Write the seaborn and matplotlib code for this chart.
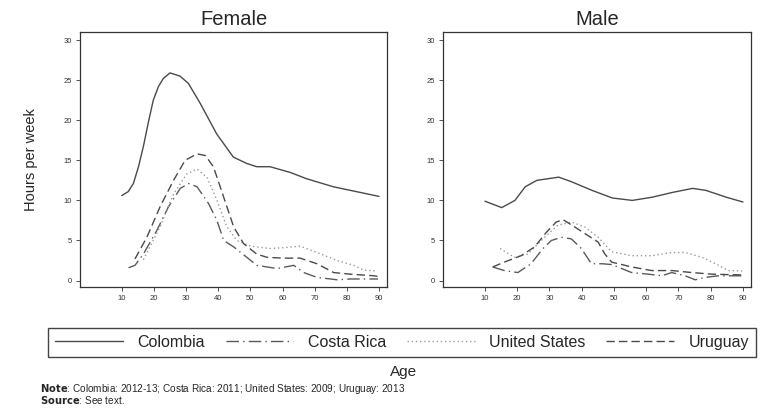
import pandas as pd
import matplotlib
matplotlib.use("Agg")
import matplotlib.pyplot as plt
import seaborn as sns

countries = ["Colombia", "Costa Rica", "United States", "Uruguay"]

# female curves (age, hours per week)
f_col_age = [10, 12, 13.6, 15.2, 16.7, 18.3, 19.8, 21.4, 22.9, 25, 28.1, 30.7, 34.4, 39.5, 44.7, 48.9, 52, 56.1, 62.3, 67.5, 75.8, 90]
f_col_hrs = [10.6, 11.1, 12.1, 14.2, 16.7, 19.8, 22.5, 24.2, 25.2, 25.9, 25.5, 24.6, 22.1, 18.3, 15.4, 14.6, 14.2, 14.2, 13.5, 12.7, 11.7, 10.5]
f_cri_age = [12.1, 14.1, 16.7, 20.9, 24.5, 28.2, 30.8, 33.4, 37, 39.6, 41.7, 44.8, 48.9, 52, 58.3, 63.5, 66.6, 70.7, 77, 81.1, 83.2, 89.7]
f_cri_hrs = [1.6, 1.9, 3.3, 6.25, 9.2, 11.5, 12.1, 11.7, 9.6, 7.5, 5, 4.2, 2.9, 1.9, 1.5, 1.9, 1.0, 0.4, 0.1, 0.2, 0.2, 0.2]
f_usa_age = [16.7, 21.9, 26.1, 30.2, 33.4, 36.5, 39.6, 42.7, 45.8, 50, 56.1, 60.3, 65.5, 70.7, 77, 82.2, 85.3, 89.4]
f_usa_hrs = [2.6, 6.7, 10.8, 13.3, 13.9, 12.9, 10, 6.7, 5, 4.3, 4.0, 4.1, 4.3, 3.5, 2.5, 1.9, 1.3, 1.2]
f_ury_age = [14.1, 17.8, 21.9, 26.1, 29.7, 33.4, 36, 38.5, 41.7, 44.8, 47.9, 52, 55.2, 60.3, 65.5, 70.7, 75.9, 81.1, 88.4, 90]
f_ury_hrs = [2.7, 5.4, 9.2, 12.5, 15, 15.8, 15.6, 14.2, 10.4, 6.7, 4.6, 3.3, 2.9, 2.8, 2.8, 2.1, 1.0, 0.8, 0.6, 0.5]

# male curves
m_col_age = [10, 15.2, 19.3, 22.5, 26.1, 32.9, 37, 43.2, 49.5, 55.7, 61.9, 68.2, 74.4, 78.5, 84.8, 90]
m_col_hrs = [9.9, 9.1, 10, 11.7, 12.5, 12.9, 12.3, 11.25, 10.3, 10, 10.4, 11, 11.5, 11.25, 10.4, 9.8]
m_cri_age = [12.4, 16, 20.2, 24.3, 28, 30.6, 33.7, 36.8, 39.9, 43, 46.3, 49.3, 55.5, 60.7, 64.8, 67.9, 72.1, 75.2, 78.3, 82.5, 89.8]
m_cri_hrs = [1.7, 1.25, 1.0, 2.1, 4, 5, 5.4, 5.2, 4, 2.1, 2.1, 2.0, 1.0, 0.8, 0.6, 1.0, 0.6, 0.1, 0.4, 0.6, 0.6]
m_usa_age = [14.7, 19.1, 23.3, 28.5, 32.6, 36.8, 40.9, 45.1, 49.3, 55.5, 61.7, 68, 72.1, 77.3, 81.5, 85.6, 89.8]
m_usa_hrs = [4.0, 2.9, 3.3, 5.4, 6.9, 7.3, 6.7, 5.4, 3.6, 3.1, 3.1, 3.5, 3.5, 2.9, 2.1, 1.25, 1.2]
m_ury_age = [12.4, 16, 21.2, 25.4, 29, 32.1, 34.2, 37.8, 42, 45.1, 47.2, 49.3, 55.5, 61.7, 68, 74.2, 80.4, 89.8]
m_ury_hrs = [1.7, 2.3, 3.1, 4.2, 6, 7.3, 7.6, 6.7, 5.6, 4.8, 3.3, 2.3, 1.7, 1.25, 1.25, 1.0, 0.8, 0.7]

x_ticks = [10, 20, 30, 40, 50, 60, 70, 80, 90]
y_ticks = [0, 5, 10, 15, 20, 25, 30]


def long_df(sex, series):
    rows = []
    for country, (ages, hrs) in zip(countries, series):
        for a, h in zip(ages, hrs):
            rows.append({"sex": sex, "country": country, "age": a, "hours": h})
    return pd.DataFrame(rows)


df = pd.concat([
    long_df("Female", [(f_col_age, f_col_hrs), (f_cri_age, f_cri_hrs),
                       (f_usa_age, f_usa_hrs), (f_ury_age, f_ury_hrs)]),
    long_df("Male", [(m_col_age, m_col_hrs), (m_cri_age, m_cri_hrs),
                     (m_usa_age, m_usa_hrs), (m_ury_age, m_ury_hrs)]),
])

sns.set_style("white")
plt.rcParams["font.family"] = ["Liberation Sans", "DejaVu Sans"]

palette = {"Colombia": "#4a4a4a", "Costa Rica": "#5a5a5a",
           "United States": "#9a9a9a", "Uruguay": "#4a4a4a"}
dashes = {"Colombia": "", "Costa Rica": (9, 3, 1, 3),
          "United States": (1, 2), "Uruguay": (6, 3)}

fig = plt.figure(figsize=(7.68, 4.15), dpi=100)
W, H = 768, 415
boxes = {"Female": (80, 32, 387, 287), "Male": (443, 32, 751, 287)}

for sex, (x0, y0, x1, y1) in boxes.items():
    ax = fig.add_axes([x0 / W, (H - y1) / H, (x1 - x0) / W, (y1 - y0) / H])
    sns.lineplot(data=df[df["sex"] == sex], x="age", y="hours", hue="country",
                 style="country", palette=palette, dashes=dashes, linewidth=1.0,
                 sort=False, legend=False, ax=ax)
    ax.set_xlim(-3, 92.5)
    ax.set_ylim(-0.8, 31)
    ax.set_xticks(x_ticks)
    ax.set_yticks(y_ticks)
    ax.tick_params(axis="both", labelsize=5.5, length=3, width=0.6,
                   direction="out", left=True, bottom=True, colors="#333333",
                   pad=3)
    for s in ax.spines.values():
        s.set_color("#333333")
        s.set_linewidth(0.9)
    ax.set_xlabel("")
    ax.set_ylabel("Hours per week" if sex == "Female" else "", fontsize=10.5, labelpad=18)
    ax.set_title(sex, fontsize=14.5, pad=5)

handles = [plt.Line2D([], [], color=palette[c], lw=1.0,
                      dashes=dashes[c] if dashes[c] else (None, None),
                      linestyle="-")
           for c in countries]
leg = fig.legend(handles, countries, loc="center", ncol=4,
                 bbox_to_anchor=(402 / W, 1 - 342.5 / H),
                 borderaxespad=0, fancybox=False, handlelength=4.25, fontsize=11.5,
                 edgecolor="#444444", framealpha=1, borderpad=0.45,
                 columnspacing=1.3, handletextpad=0.9)
leg.get_frame().set_linewidth(1.0)

fig.text(404 / W, 1 - 372 / H, "Age", ha="center", va="center", fontsize=11)
fig.text(40 / W, 1 - 388.5 / H, r"$\bf{Note}$: Colombia: 2012-13; Costa Rica: 2011; United States: 2009; Uruguay: 2013",
         fontsize=7.2, va="center")
fig.text(40 / W, 1 - 400 / H, r"$\bf{Source}$: See text.", fontsize=7.2, va="center")

fig.savefig("out.png", dpi=100, facecolor="white")
